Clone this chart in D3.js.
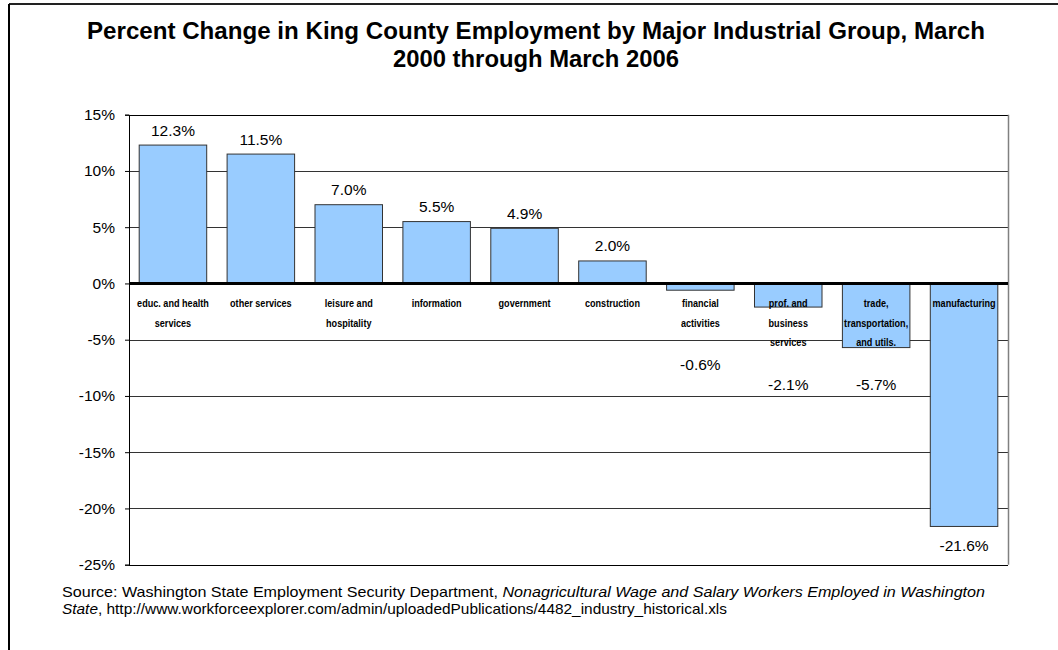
<!DOCTYPE html>
<html>
<head>
<meta charset="utf-8">
<script src="https://cdn.jsdelivr.net/npm/d3@7"></script>
<style>
  html, body { margin: 0; padding: 0; background: #fff; }
  svg { display: block; }
  text { font-family: "Liberation Sans", Arial, Helvetica, sans-serif; }
</style>
</head>
<body>
<svg id="chart" width="1058" height="650"></svg>
<script>
// Industry groups, ordered from largest gain to largest loss
const categories = [
  "educ. and health services",
  "other services",
  "leisure and hospitality",
  "information",
  "government",
  "construction",
  "financial activities",
  "prof. and business services",
  "trade, transportation, and utils.",
  "manufacturing"
];
// Line breaks used for the category labels
const categoryLines = [
  ["educ. and health", "services"],
  ["other services"],
  ["leisure and", "hospitality"],
  ["information"],
  ["government"],
  ["construction"],
  ["financial", "activities"],
  ["prof. and", "business", "services"],
  ["trade,", "transportation,", "and utils."],
  ["manufacturing"]
];
// Percent change, March 2000 to March 2006
const pctChange = [12.3, 11.5, 7.0, 5.5, 4.9, 2.0, -0.6, -2.1, -5.7, -21.6];
const yTicks = [15, 10, 5, 0, -5, -10, -15, -20, -25];

const titleLines = [
  "Percent Change in King County Employment by Major Industrial Group, March",
  "2000 through March 2006"
];

const svg = d3.select("#chart");

// outer frame (left and top edges)
svg.append("line").attr("x1", 9).attr("x2", 1058).attr("y1", 4).attr("y2", 4)
  .attr("stroke", "#222").attr("stroke-width", 2);
svg.append("line").attr("x1", 9).attr("x2", 9).attr("y1", 4).attr("y2", 650)
  .attr("stroke", "#000").attr("stroke-width", 2);

// title
const titleW = [898, 286];
titleLines.forEach((t, i) => {
  svg.append("text")
    .attr("x", 536).attr("y", 39 + i * 28)
    .attr("text-anchor", "middle")
    .attr("font-size", 23).attr("font-weight", "bold")
    .attr("textLength", titleW[i]).attr("lengthAdjust", "spacingAndGlyphs")
    .text(t);
});

// plot area
const plot = { left: 129, right: 1008, top: 114.7, bottom: 564.7 };

const x = d3.scaleBand()
  .domain(categories)
  .range([plot.left, plot.right])
  .paddingInner(0.232)
  .paddingOuter(0.116);

const y = d3.scaleLinear()
  .domain([-25, 15])
  .range([plot.bottom, plot.top]);

// horizontal gridlines
svg.append("g")
  .selectAll("line")
  .data(yTicks.filter(d => d !== 0))
  .join("line")
  .attr("x1", plot.left).attr("x2", plot.right)
  .attr("y1", d => Math.round(y(d)) + 0.5).attr("y2", d => Math.round(y(d)) + 0.5)
  .attr("stroke", d => (d === 15 || d === -25) ? "#000" : "#333")
  .attr("stroke-width", 1);

// right edge of plot area
svg.append("line")
  .attr("x1", plot.right + 0.5).attr("x2", plot.right + 0.5)
  .attr("y1", plot.top).attr("y2", plot.bottom)
  .attr("stroke", "#808080").attr("stroke-width", 1.5);

// y axis
const yAxis = d3.axisLeft(y)
  .tickValues(yTicks)
  .tickSize(4)
  .tickPadding(10)
  .tickFormat(d => d + "%");
const gy = svg.append("g")
  .attr("transform", `translate(${plot.left},0)`)
  .call(yAxis);
gy.select(".domain").attr("stroke", "#000");
gy.selectAll(".tick line").attr("stroke", "#000");
gy.selectAll(".tick text")
  .attr("font-family", "'Liberation Sans', Arial, sans-serif")
  .attr("font-size", 15.5)
  .attr("fill", "#000");

// bars
svg.append("g")
  .selectAll("rect")
  .data(categories)
  .join("rect")
  .attr("x", d => x(d))
  .attr("width", x.bandwidth())
  .attr("y", (d, i) => y(Math.max(0, pctChange[i])))
  .attr("height", (d, i) => Math.abs(y(pctChange[i]) - y(0)))
  .attr("fill", "#99CCFF")
  .attr("stroke", "#333")
  .attr("stroke-width", 1);

// zero line
svg.append("line")
  .attr("x1", plot.left).attr("x2", plot.right)
  .attr("y1", y(0)).attr("y2", y(0))
  .attr("stroke", "#000").attr("stroke-width", 3);

// category labels just below the zero line
const lineGap = 19.3;
const catG = svg.append("g");
categories.forEach((c, i) => {
  const t = catG.append("text")
    .attr("text-anchor", "middle")
    .attr("font-size", 11.5)
    .attr("font-weight", "bold")
    .attr("transform", `translate(${x(c) + x.bandwidth() / 2},${y(0) + 24}) scale(0.79,1)`);
  categoryLines[i].forEach((ln, j) => {
    t.append("tspan").attr("x", 0).attr("y", j * lineGap).text(ln);
  });
});

// value labels
const valG = svg.append("g");
categories.forEach((c, i) => {
  const v = pctChange[i];
  let cy;
  if (v >= 0) {
    cy = y(v) - 15;
  } else {
    const belowLabels = y(0) + 18 + categoryLines[i].length * lineGap + 25;
    cy = Math.max(y(v) + 19, belowLabels);
  }
  valG.append("text")
    .attr("x", x(c) + x.bandwidth() / 2)
    .attr("y", cy)
    .attr("dy", "0.35em")
    .attr("text-anchor", "middle")
    .attr("font-size", 15.5)
    .text(v.toFixed(1) + "%");
});

// source note
const src1 = svg.append("text")
  .attr("x", 62).attr("y", 597)
  .attr("font-size", 15)
  .attr("textLength", 923).attr("lengthAdjust", "spacingAndGlyphs");
src1.append("tspan").text("Source: Washington State Employment Security Department, ");
src1.append("tspan").attr("font-style", "italic")
  .text("Nonagricultural Wage and Salary Workers Employed in Washington");

const src2 = svg.append("text")
  .attr("x", 62).attr("y", 614)
  .attr("font-size", 15)
  .attr("textLength", 665).attr("lengthAdjust", "spacingAndGlyphs");
src2.append("tspan").attr("font-style", "italic").text("State");
src2.append("tspan").text(", http://www.workforceexplorer.com/admin/uploadedPublications/4482_industry_historical.xls");
</script>
</body>
</html>
